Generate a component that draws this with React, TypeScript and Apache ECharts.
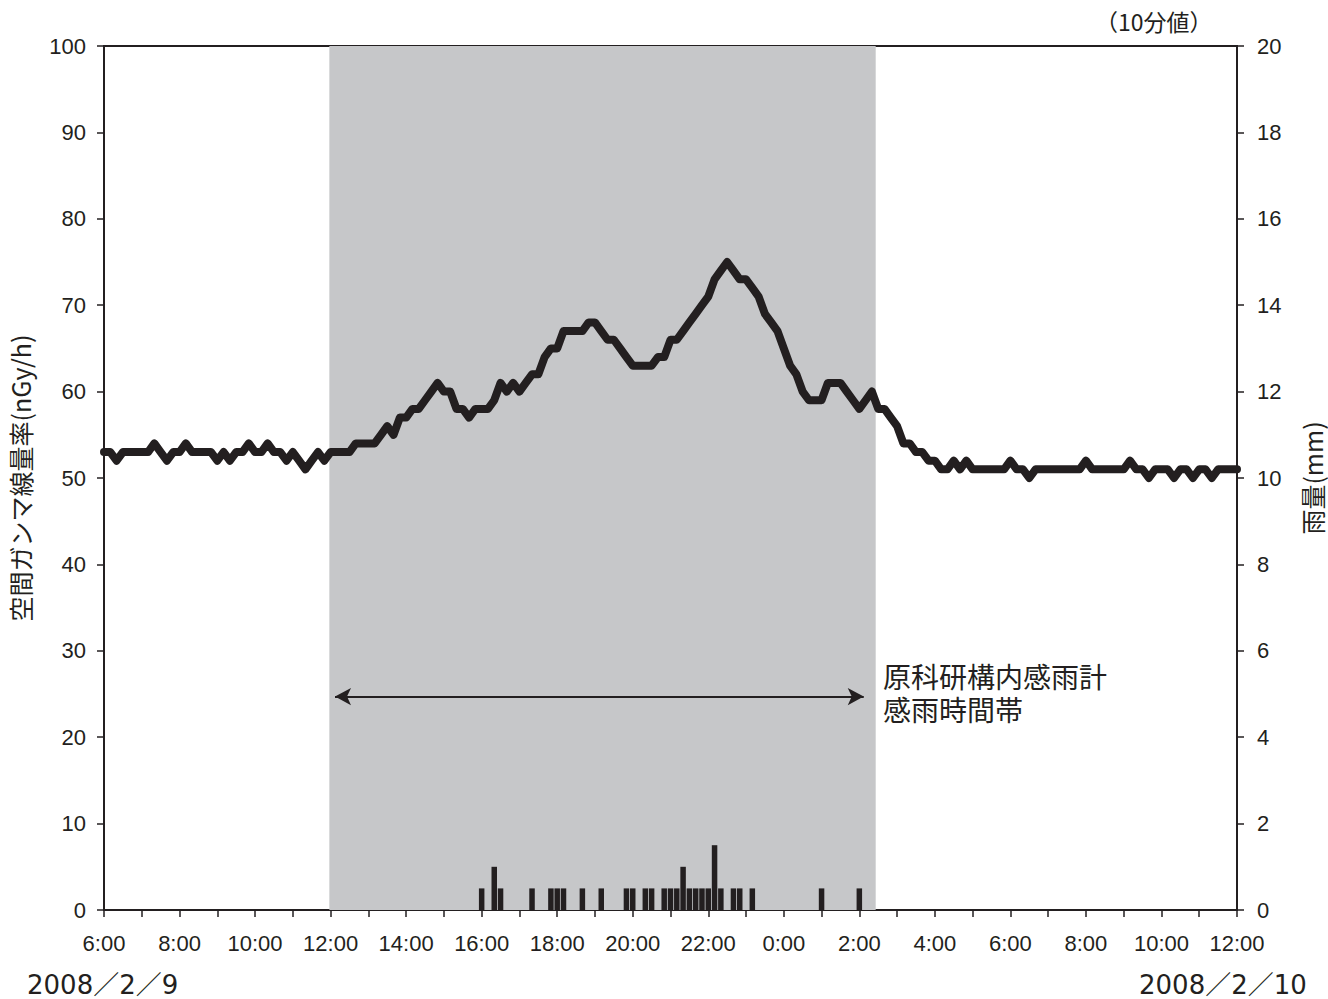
import React, { useEffect, useRef } from "react";
import * as echarts from "echarts";

// 10-minute values of the air gamma dose rate (nGy/h), from 2008/2/9 6:00 to 2008/2/10 12:00
const doseRate: number[] = [
  53, 53, 52, 53, 53, 53, 53, 53, 54, 53,
  52, 53, 53, 54, 53, 53, 53, 53, 52, 53,
  52, 53, 53, 54, 53, 53, 54, 53, 53, 52,
  53, 52, 51, 52, 53, 52, 53, 53, 53, 53,
  54, 54, 54, 54, 55, 56, 55, 57, 57, 58,
  58, 59, 60, 61, 60, 60, 58, 58, 57, 58,
  58, 58, 59, 61, 60, 61, 60, 61, 62, 62,
  64, 65, 65, 67, 67, 67, 67, 68, 68, 67,
  66, 66, 65, 64, 63, 63, 63, 63, 64, 64,
  66, 66, 67, 68, 69, 70, 71, 73, 74, 75,
  74, 73, 73, 72, 71, 69, 68, 67, 65, 63,
  62, 60, 59, 59, 59, 61, 61, 61, 60, 59,
  58, 59, 60, 58, 58, 57, 56, 54, 54, 53,
  53, 52, 52, 51, 51, 52, 51, 52, 51, 51,
  51, 51, 51, 51, 52, 51, 51, 50, 51, 51,
  51, 51, 51, 51, 51, 51, 52, 51, 51, 51,
  51, 51, 51, 52, 51, 51, 50, 51, 51, 51,
  50, 51, 51, 50, 51, 51, 50, 51, 51, 51,
  51,
];
const startHour = 6;
const stepMinutes = 10;

// 10-minute rainfall (mm)
const rainTimes: string[] = [
  "16:00", "16:20", "16:30", "17:20", "17:50", "18:00", "18:10", "18:40", "19:10",
  "19:50", "20:00", "20:20", "20:30", "20:50", "21:00", "21:10", "21:20", "21:30",
  "21:40", "21:50", "22:00", "22:10", "22:20", "22:40", "22:50", "23:10", "1:00", "2:00",
];
const rainValues: number[] = [
  0.5, 1.0, 0.5, 0.5, 0.5, 0.5, 0.5, 0.5, 0.5,
  0.5, 0.5, 0.5, 0.5, 0.5, 0.5, 0.5, 1.0, 0.5,
  0.5, 0.5, 0.5, 1.5, 0.5, 0.5, 0.5, 0.5, 0.5, 0.5,
];

// rain-sensing period (shaded) and arrow
const rainPeriod: string[] = ["11:58", "2:26"];
const arrowSpan: string[] = ["12:07", "2:07"];
const arrowLevel = 24.7;

const leftTicks = { min: 0, max: 100, interval: 10 };
const rightTicks = { min: 0, max: 20, interval: 2 };

const ink = "#231f20";
const shade = "#c6c7c9";

function toMinutes(t: string): number {
  const [h, m] = t.split(":").map(Number);
  let hh = h;
  if (hh < startHour) hh += 24;
  return (hh - startHour) * 60 + m;
}

export default function App() {
  const ref = useRef<HTMLDivElement>(null);

  useEffect(() => {
    if (!ref.current) return;
    const chart = echarts.init(ref.current, undefined, { renderer: "svg" });
    const latin = "'Liberation Sans', Arial, sans-serif";
    const cjk = "'Noto Sans CJK JP', sans-serif";
    const dateFont = "'DejaVu Sans', 'Noto Sans CJK JP', sans-serif";

    const lineData = doseRate.map((v, i) => [i * stepMinutes, v]);
    const barData = rainTimes.map((t, i) => [toMinutes(t), rainValues[i]]);

    chart.setOption({
      animation: false,
      grid: {
        left: 104,
        right: 91,
        top: 46,
        bottom: 89,
        containLabel: false,
        outerBoundsMode: "none",
        show: true,
        borderColor: ink,
        borderWidth: 2,
        backgroundColor: "transparent",
      },
      xAxis: {
        type: "value",
        min: 0,
        max: 1800,
        interval: 60,
        axisLine: { show: true, lineStyle: { color: ink, width: 2 } },
        axisTick: { show: true, inside: false, length: 7, lineStyle: { color: ink, width: 1.5 } },
        splitLine: { show: false },
        axisLabel: {
          showMinLabel: true,
          showMaxLabel: true,
          margin: 22,
          fontSize: 22,
          color: ink,
          fontFamily: latin,
          formatter: (v: number) =>
            v % 120 === 0 ? `${(startHour + v / 60) % 24}:00` : "",
        },
      },
      yAxis: [
        {
          type: "value",
          position: "left",
          ...leftTicks,
          name: "空間ガンマ線量率(nGy/h)",
          nameLocation: "middle",
          nameGap: 72,
          nameRotate: 90,
          nameTextStyle: { fontSize: 25, color: ink, fontFamily: cjk },
          axisLine: { show: true, lineStyle: { color: ink, width: 2 } },
          axisTick: { show: true, inside: false, length: 7, lineStyle: { color: ink, width: 1.5 } },
          splitLine: { show: false },
          axisLabel: { margin: 18, fontSize: 22, color: ink, fontFamily: latin },
        },
        {
          type: "value",
          position: "right",
          ...rightTicks,
          name: "雨量(mm)",
          nameLocation: "middle",
          nameGap: 62,
          nameRotate: 90,
          nameTextStyle: { fontSize: 25, color: ink, fontFamily: cjk },
          axisLine: { show: true, lineStyle: { color: ink, width: 2 } },
          axisTick: { show: true, inside: false, length: 7, lineStyle: { color: ink, width: 1.5 } },
          splitLine: { show: false },
          axisLabel: { margin: 20, fontSize: 22, color: ink, fontFamily: latin },
        },
      ],
      series: [
        {
          type: "bar",
          yAxisIndex: 1,
          data: barData,
          barWidth: 5.5,
          itemStyle: { color: ink },
          z: 2,
        },
        {
          type: "line",
          yAxisIndex: 0,
          data: lineData,
          showSymbol: false,
          symbol: "none",
          lineStyle: { color: ink, width: 8, cap: "round", join: "round" },
          z: 3,
          markArea: {
            silent: true,
            itemStyle: { color: shade },
            data: [[{ xAxis: toMinutes(rainPeriod[0]) }, { xAxis: toMinutes(rainPeriod[1]) }]],
          },
          markLine: {
            silent: true,
            symbol: ["arrow", "arrow"],
            symbolSize: [13, 16],
            label: { show: false },
            lineStyle: { color: ink, width: 2, type: "solid" },
            data: [
              [
                { coord: [toMinutes(arrowSpan[0]), arrowLevel] },
                { coord: [toMinutes(arrowSpan[1]), arrowLevel] },
              ],
            ],
          },
        },
      ],
      graphic: [
        {
          type: "text",
          left: 1095,
          top: 9,
          style: { text: "（10分値）", fontSize: 23, fill: ink, fontFamily: cjk },
        },
        {
          type: "text",
          left: 883,
          top: 662,
          style: { text: "原科研構内感雨計", fontSize: 28, fill: ink, fontFamily: cjk },
        },
        {
          type: "text",
          left: 883,
          top: 695,
          style: { text: "感雨時間帯", fontSize: 28, fill: ink, fontFamily: cjk },
        },
        {
          type: "text",
          left: 27,
          top: 972,
          style: { text: "2008／2／9", fontSize: 26, fill: ink, fontFamily: dateFont },
        },
        {
          type: "text",
          left: 1139,
          top: 972,
          style: { text: "2008／2／10", fontSize: 26, fill: ink, fontFamily: dateFont },
        },
      ],
    });
    return () => chart.dispose();
  }, []);

  return (
    <div
      ref={ref}
      style={{ position: "fixed", left: 0, top: 0, width: 1328, height: 999, background: "#fff" }}
    />
  );
}
